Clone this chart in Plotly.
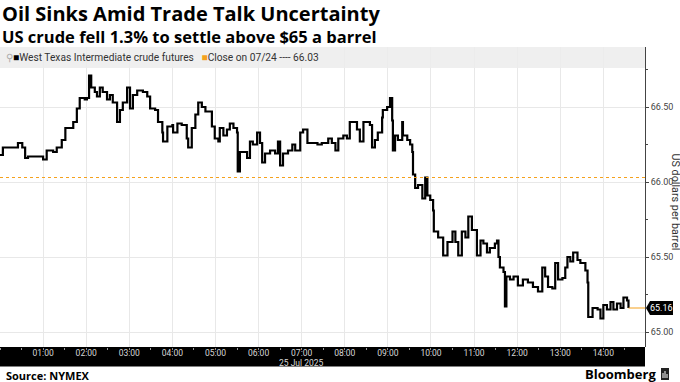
import plotly.graph_objects as go
from datetime import datetime, timedelta

# ---- data ----
minutes = [0, 4, 18, 25, 31, 35, 39, 49, 58, 60, 65, 74, 79, 86, 91, 97, 102, 107, 111, 118,
           121, 124, 127, 132, 135, 139, 143, 149, 153, 157, 163, 167, 171, 177, 181, 185, 191, 199, 205, 209,
           216, 220, 226, 227, 233, 240, 241, 247, 253, 258, 260, 262, 267, 272, 276, 281, 286, 290, 295, 299,
           304, 306, 311, 316, 320, 325, 330, 331, 334, 338, 344, 348, 352, 358, 362, 365, 369, 376, 383, 387,
           390, 394, 401, 407, 411, 418, 422, 428, 435, 442, 448, 457, 462, 467, 471, 478, 483, 487, 492, 497,
           501, 506, 513, 515, 518, 522, 526, 532, 533, 539, 543, 546, 547, 550, 554, 560, 561, 567, 571, 574,
           575, 578, 582, 588, 592, 595, 599, 603, 604, 610, 617, 623, 630, 634, 638, 643, 648, 652, 657, 664,
           669, 673, 678, 682, 689, 692, 694, 696, 701, 703, 705, 710, 715, 721, 728, 735, 742, 749, 755, 759,
           763, 769, 773, 777, 783, 787, 790, 794, 798, 804, 808, 815, 818, 819, 825, 832, 836, 840, 845, 850,
           854, 859, 864, 868, 873, 875]
prices = [66.18, 66.23, 66.23, 66.26, 66.23, 66.16, 66.17, 66.17, 66.17, 66.15, 66.21, 66.20, 66.23, 66.28, 66.36, 66.36, 66.40, 66.49, 66.56, 66.55,
          66.56, 66.71, 66.63, 66.60, 66.57, 66.63, 66.60, 66.55, 66.58, 66.53, 66.40, 66.48, 66.53, 66.63, 66.49, 66.58, 66.61, 66.60, 66.57, 66.49,
          66.48, 66.40, 66.33, 66.27, 66.37, 66.38, 66.33, 66.39, 66.38, 66.38, 66.29, 66.23, 66.36, 66.45, 66.53, 66.50, 66.47, 66.47, 66.37, 66.29,
          66.27, 66.36, 66.31, 66.35, 66.39, 66.36, 66.33, 66.07, 66.20, 66.20, 66.16, 66.27, 66.25, 66.33, 66.26, 66.13, 66.19, 66.21, 66.19, 66.27,
          66.11, 66.19, 66.21, 66.25, 66.21, 66.33, 66.35, 66.26, 66.26, 66.25, 66.26, 66.29, 66.26, 66.21, 66.29, 66.31, 66.29, 66.40, 66.40, 66.35,
          66.27, 66.40, 66.40, 66.38, 66.23, 66.28, 66.33, 66.43, 66.48, 66.50, 66.56, 66.41, 66.21, 66.31, 66.28, 66.40, 66.31, 66.28, 66.25, 66.20,
          66.05, 65.96, 65.98, 65.89, 66.03, 65.91, 65.88, 65.81, 65.67, 65.63, 65.51, 65.60, 65.67, 65.60, 65.51, 65.67, 65.63, 65.77, 65.68, 65.51,
          65.61, 65.59, 65.53, 65.56, 65.59, 65.61, 65.50, 65.43, 65.40, 65.17, 65.37, 65.35, 65.37, 65.31, 65.35, 65.33, 65.30, 65.27, 65.43, 65.37,
          65.30, 65.29, 65.46, 65.35, 65.36, 65.43, 65.50, 65.47, 65.53, 65.48, 65.46, 65.41, 65.33, 65.10, 65.16, 65.15, 65.09, 65.18, 65.15, 65.20,
          65.15, 65.19, 65.16, 65.23, 65.21, 65.16]
prev_close = 66.03
last_price = 65.16
tick_hours = list(range(1, 15))
y_ticks = [65.00, 65.50, 66.00, 66.50]
title = "Oil Sinks Amid Trade Talk Uncertainty"
subtitle = "US crude fell 1.3% to settle above $65 a barrel"
series_name = "West Texas Intermediate crude futures"
close_label = "Close on 07/24 ---- 66.03"
date_label = "25 Jul 2025"
date_label_hour = 7

base = datetime(2025, 7, 25)
times = [base + timedelta(minutes=m) for m in minutes]
x_end = base + timedelta(minutes=898)

W, H = 680, 382
L, R, T, B = 0, 35, 47, 35
PW, PH = W - L - R, H - T - B
def pxx(p): return (p - L) / PW
def pxy(p): return (H - B - p) / PH

FONT = "Roboto, 'Liberation Sans', Arial, sans-serif"
TFONT = "'Open Sans', Roboto, Arial, sans-serif"
ORANGE = "#f5a11c"

fig = go.Figure()
fig.add_trace(go.Scatter(x=times, y=prices, mode="lines", line=dict(color="#000000", width=2.2, shape="hv"),
                         showlegend=False, hoverinfo="skip"))

tickvals = [base + timedelta(hours=h) for h in tick_hours]
ticktext = [f"{h:02d}:00" for h in tick_hours]

fig.update_layout(
    width=W, height=H, margin=dict(l=L, r=R, t=T, b=B, autoexpand=False),
    paper_bgcolor="white", plot_bgcolor="white",
    font=dict(family=FONT, color="#333"),
    xaxis=dict(type="date", range=[base, x_end], tickmode="array", tickvals=tickvals, ticktext=ticktext,
               automargin=False, ticklabelstandoff=-4,
               showgrid=True, gridcolor="#e8e8e8", gridwidth=1, zeroline=False, showline=False,
               ticks="outside", ticklen=2, tickcolor="#888",
               tickfont=dict(size=8.5, color="#d8d8d8", family=FONT),
               minor=dict(dtick=1800000, ticks="outside", ticklen=2, tickcolor="#999", showgrid=False)),
    yaxis=dict(side="right", range=[64.90, 66.90], tickmode="array", tickvals=y_ticks,
               ticktext=[f"{v:.2f}" for v in y_ticks], automargin=False,
               showgrid=True, gridcolor="#e8e8e8", gridwidth=1, zeroline=False,
               showline=True, linecolor="#444", linewidth=1,
               ticks="outside", ticklen=3, tickcolor="#444",
               tickfont=dict(size=9, color="#444", family=FONT),
               minor=dict(dtick=0.25, tick0=64.0, ticks="outside", ticklen=2, tickcolor="#444", showgrid=False)),
)

shapes = []
shapes.append(dict(type="rect", xref="paper", yref="paper", x0=0, x1=1, y0=pxy(366.5), y1=0,
                   fillcolor="black", line=dict(width=0), layer="below"))
shapes.append(dict(type="line", xref="paper", yref="y", x0=0, x1=1, y0=prev_close, y1=prev_close,
                   line=dict(color=ORANGE, width=1, dash="dot")))
shapes.append(dict(type="line", xref="x", yref="y", x0=times[-1], x1=x_end, y0=last_price, y1=last_price,
                   line=dict(color=ORANGE, width=1)))
shapes.append(dict(type="rect", xref="paper", yref="paper", x0=0, x1=1, y0=pxy(68), y1=1,
                   fillcolor="rgba(236,236,236,0.85)", line=dict(width=0), layer="above"))
hy = 7 / 150
shapes.append(dict(type="path", xref="paper", yref="y",
                   path=(f"M {pxx(646)},{last_price} L {pxx(650)},{last_price + hy} L {pxx(673)},{last_price + hy} "
                         f"L {pxx(673)},{last_price - hy} L {pxx(650)},{last_price - hy} Z"),
                   fillcolor="black", line=dict(width=0), layer="above"))
shapes.append(dict(type="rect", xref="paper", yref="paper", x0=pxx(661), x1=pxx(669), y0=pxy(380), y1=pxy(368),
                   fillcolor="#222", line=dict(width=0)))
for bx, top in [(663, 373), (665, 371), (667, 374)]:
    shapes.append(dict(type="line", xref="paper", yref="paper", x0=pxx(bx), x1=pxx(bx), y0=pxy(378), y1=pxy(top),
                       line=dict(color="white", width=1)))
fig.update_layout(shapes=shapes)

ann = []
ann.append(dict(text=f"<b>{title}</b>", xref="paper", yref="paper", x=pxx(0), y=pxy(14), xanchor="left",
                yanchor="middle", showarrow=False, font=dict(size=20, color="#000", family=TFONT)))
ann.append(dict(text=f"<b>{subtitle}</b>", xref="paper", yref="paper", x=pxx(0), y=pxy(36.5), xanchor="left",
                yanchor="middle", showarrow=False, font=dict(size=16.5, color="#000", family=TFONT)))
ann.append(dict(text=(f"<span style='color:#aaa'>⚲</span><span style='color:#000'>■</span>{series_name}   "
                      f"<span style='color:{ORANGE}'>■</span>{close_label}"),
                xref="paper", yref="paper", x=pxx(4), y=pxy(58), xanchor="left", yanchor="middle",
                showarrow=False, font=dict(size=10.2, color="#333", family=FONT)))
ann.append(dict(text=date_label, xref="x", yref="paper", x=base + timedelta(hours=date_label_hour), y=pxy(362.5),
                xanchor="center", yanchor="middle", showarrow=False,
                font=dict(size=8.5, color="#d8d8d8", family=FONT)))
ann.append(dict(text=f"{last_price:.2f}", xref="paper", yref="y", x=pxx(661.5), y=last_price, xanchor="center",
                yanchor="middle", showarrow=False, font=dict(size=9, color="white", family=FONT)))
ann.append(dict(text="US dollars per barrel", xref="paper", yref="paper", x=pxx(674.5), y=pxy(202),
                xanchor="center", yanchor="middle", textangle=90, showarrow=False,
                font=dict(size=10.8, color="#333", family=FONT)))
ann.append(dict(text="<b>Source: NYMEX</b>", xref="paper", yref="paper", x=pxx(4), y=pxy(375), xanchor="left",
                yanchor="middle", showarrow=False, font=dict(size=11, color="#000", family=TFONT)))
ann.append(dict(text="<b>Bloomberg</b>", xref="paper", yref="paper", x=pxx(658), y=pxy(374), xanchor="right",
                yanchor="middle", showarrow=False, font=dict(size=13, color="#000", family=TFONT)))
fig.update_layout(annotations=ann)

fig.write_html("out.html", config={"displayModeBar": False},
               post_script="document.body.style.margin='0';document.body.style.padding='0';")
